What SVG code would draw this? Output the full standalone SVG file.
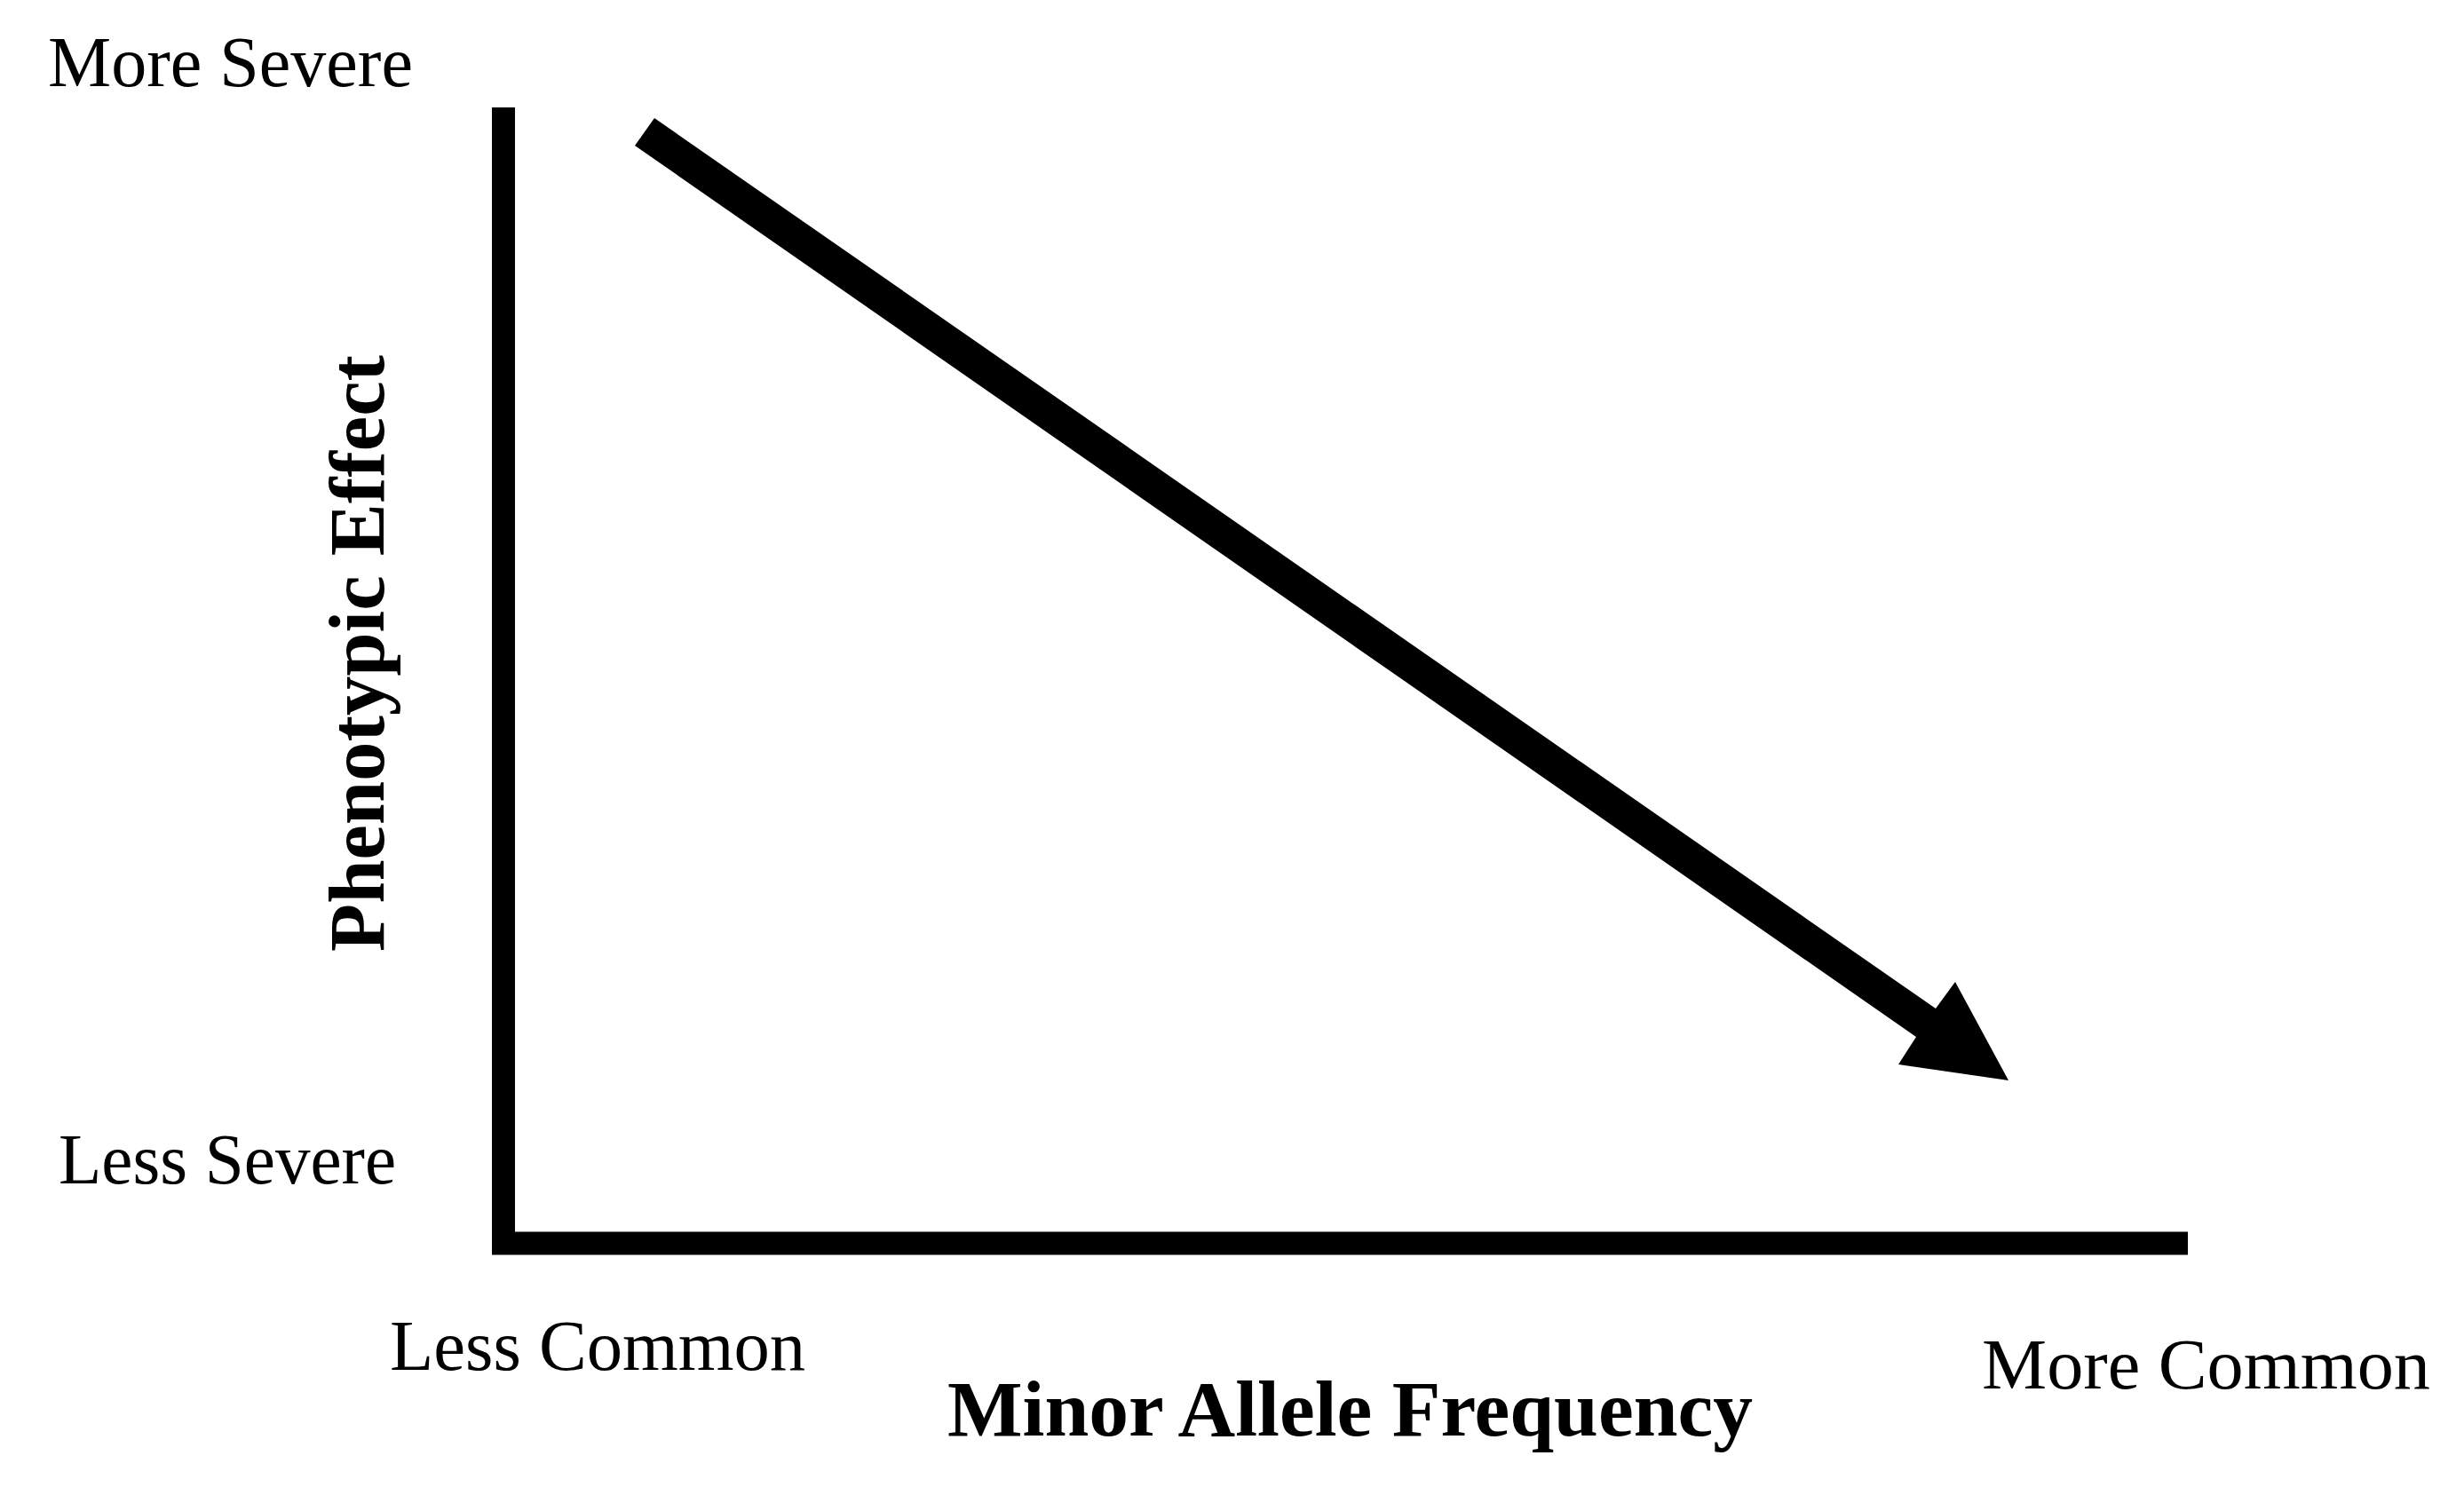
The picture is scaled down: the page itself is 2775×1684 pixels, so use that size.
<svg xmlns="http://www.w3.org/2000/svg" width="2775" height="1684" viewBox="0 0 2775 1684">
<style>
.lbl{font-family:"Liberation Serif","Times New Roman",serif;font-size:80px;fill:#000}
.ttl{font-family:"Liberation Serif","Times New Roman",serif;font-size:88px;font-weight:bold;fill:#000}
.axis{fill:none;stroke:#000;stroke-width:26;stroke-linejoin:miter;stroke-linecap:butt}
</style>
<rect width="2775" height="1684" fill="#fff"/>
<g id="axes">
<polyline class="axis" points="567,121 567,1400.5 2464,1400.5"/>
</g>
<g id="connectors">
<polygon id="trend-arrow" fill="#000" points="737,133 2180,1136 2202,1106 2262,1217 2138,1199 2158,1168 715,164"/>
</g>
<g id="labels">
<text id="more-severe" class="lbl" x="54" y="97" textLength="411" lengthAdjust="spacingAndGlyphs">More Severe</text>
<text id="less-severe" class="lbl" x="66" y="1333" textLength="380" lengthAdjust="spacingAndGlyphs">Less Severe</text>
<text id="less-common" class="lbl" x="439" y="1543" textLength="468" lengthAdjust="spacingAndGlyphs">Less Common</text>
<text id="more-common" class="lbl" x="2232" y="1564" textLength="505" lengthAdjust="spacingAndGlyphs">More Common</text>
<text id="y-title" class="ttl" transform="translate(432,1072) rotate(-90)" textLength="672" lengthAdjust="spacingAndGlyphs">Phenotypic Effect</text>
<text id="x-title" class="ttl" x="1067" y="1617" textLength="907" lengthAdjust="spacingAndGlyphs">Minor Allele Frequency</text>
</g>
</svg>
